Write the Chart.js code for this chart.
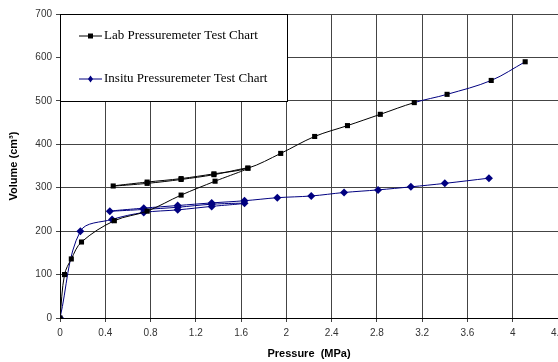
<!DOCTYPE html>
<html>
<head>
<meta charset="utf-8">
<script src="https://cdn.jsdelivr.net/npm/chart.js@4"></script>
<style>
  html, body { margin: 0; padding: 0; background: #fff; overflow: hidden; }
  #wrap { position: absolute; left: 0; top: 0; width: 570px; height: 362px; }
</style>
</head>
<body>
<div id="wrap"><canvas id="chart" width="570" height="362"></canvas></div>
<script>
// Lab test: loading, unload/reload loop, then loading to the end
const labPressure = [0, 0.04, 0.10, 0.19, 0.48, 0.77, 1.07, 1.37, 1.66, 1.36, 1.07, 0.77, 0.47, 0.77, 1.07, 1.36, 1.66, 1.95, 2.25, 2.54, 2.83, 3.13, 3.42, 3.81, 4.11];
const labVolume   = [0, 100, 136, 175, 224, 246, 283, 315, 345, 330, 319, 310, 304, 313, 321, 332, 345, 379, 418, 443, 469, 496, 515, 547, 590];

// In-situ test
const insituPressure = [0, 0.18, 0.46, 0.74, 1.04, 1.34, 1.63, 1.34, 1.04, 0.74, 0.44, 0.74, 1.04, 1.34, 1.63, 1.92, 2.22, 2.51, 2.81, 3.10, 3.40, 3.79];
const insituVolume   = [0, 200, 227, 243, 249, 257, 264, 262, 255, 250, 246, 253, 259, 265, 270, 277, 281, 289, 295, 302, 310, 322];

const xTicks = [0, 0.4, 0.8, 1.2, 1.6, 2, 2.4, 2.8, 3.2, 3.6, 4, 4.4];
const yTicks = [0, 100, 200, 300, 400, 500, 600, 700];

const navy = '#000080';
const labBlueFrom = 21; // lab line turns blue from this point on

const toPts = (xs, ys) => xs.map((x, i) => ({ x: x, y: ys[i] }));

// legend box drawn inside the plot, over the grid
const boxLegend = {
    id: 'boxLegend',
    beforeDatasetsDraw(chart) {
        const ctx = chart.ctx;
        const a = chart.chartArea;
        const x0 = a.left, y0 = a.top, w = 227, h = 87;
        ctx.save();
        ctx.fillStyle = '#fff';
        ctx.fillRect(x0, y0, w, h);
        ctx.strokeStyle = '#000';
        ctx.lineWidth = 1;
        ctx.strokeRect(x0 + 0.5, y0 + 0.5, w, h);
        const rows = [22, 65];
        chart.data.datasets.forEach((ds, i) => {
            const y = y0 + rows[i];
            ctx.strokeStyle = ds.borderColor;
            ctx.lineWidth = 1;
            ctx.beginPath();
            ctx.moveTo(x0 + 19, y);
            ctx.lineTo(x0 + 42, y);
            ctx.stroke();
            ctx.fillStyle = ds.pointBackgroundColor;
            ctx.beginPath();
            if (ds.pointStyle === 'rect') {
                ctx.rect(x0 + 28, y - 2.5, 5, 5);
            } else {
                ctx.moveTo(x0 + 30.5, y - 3.5);
                ctx.lineTo(x0 + 33, y);
                ctx.lineTo(x0 + 30.5, y + 3.5);
                ctx.lineTo(x0 + 28, y);
                ctx.closePath();
            }
            ctx.fill();
            ctx.fillStyle = '#000';
            ctx.font = '13px "Liberation Serif", "Times New Roman", serif';
            ctx.textBaseline = 'middle';
            ctx.fillText(ds.label, x0 + 44, y);
        });
        ctx.restore();
    }
};

new Chart(document.getElementById('chart'), {
    type: 'scatter',
    data: {
        datasets: [{
            label: 'Lab Pressuremeter Test Chart',
            data: toPts(labPressure, labVolume),
            showLine: true,
            borderColor: '#000',
            borderWidth: 1,
            tension: 0.35,
            pointStyle: 'rect',
            pointRadius: 3.6,
            pointBackgroundColor: '#000',
            pointBorderColor: '#000',
            pointBorderWidth: 0,
            segment: {
                borderColor: c => c.p0DataIndex >= labBlueFrom ? navy : '#000'
            }
        }, {
            label: 'Insitu Pressuremeter Test Chart',
            data: toPts(insituPressure, insituVolume),
            showLine: true,
            borderColor: navy,
            borderWidth: 1,
            tension: 0.35,
            pointStyle: 'rectRot',
            pointRadius: 4,
            pointBackgroundColor: navy,
            pointBorderColor: navy,
            pointBorderWidth: 0
        }]
    },
    options: {
        responsive: false,
        animation: false,
        layout: { padding: { top: 14, right: 12, bottom: 0, left: 0 } },
        plugins: {
            legend: { display: false },
            tooltip: { enabled: false }
        },
        scales: {
            x: {
                type: 'linear',
                min: xTicks[0],
                max: xTicks[xTicks.length - 1],
                afterFit: s => { s.height = 44; },
                afterBuildTicks: s => { s.ticks = xTicks.map(v => ({ value: v })); },
                ticks: {
                    color: '#333',
                    font: { family: 'Liberation Sans, Arial', size: 10 },
                    padding: 5,
                    maxRotation: 0,
                    callback: v => String(+v.toFixed(1))
                },
                grid: { color: '#444', lineWidth: 1, tickLength: 4 },
                border: { color: '#000', width: 1 },
                title: {
                    display: true,
                    text: 'Pressure  (MPa)',
                    color: '#000',
                    font: { family: 'Liberation Sans, Arial', size: 11, weight: 'bold' },
                    padding: { top: 0, bottom: 1 }
                }
            },
            y: {
                min: yTicks[0],
                max: yTicks[yTicks.length - 1],
                afterFit: s => { s.width = 60; },
                afterBuildTicks: s => { s.ticks = yTicks.map(v => ({ value: v })); },
                ticks: {
                    color: '#333',
                    font: { family: 'Liberation Sans, Arial', size: 10 },
                    padding: 4
                },
                grid: { color: '#444', lineWidth: 1, tickLength: 4 },
                border: { color: '#000', width: 1 },
                title: {
                    display: true,
                    text: 'Volume (cm³)',
                    color: '#000',
                    font: { family: 'Liberation Sans, Arial', size: 11, weight: 'bold' },
                    padding: { top: 7, bottom: 0 }
                }
            }
        }
    },
    plugins: [boxLegend]
});
</script>
</body>
</html>
